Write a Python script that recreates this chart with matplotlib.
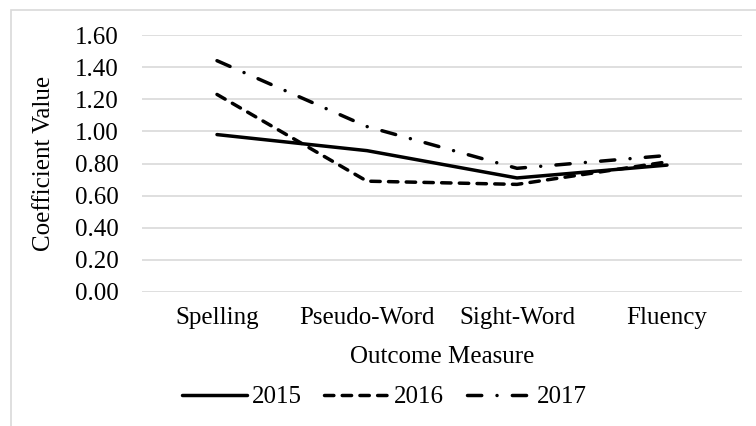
import matplotlib
matplotlib.use("Agg")
import matplotlib.pyplot as plt
from matplotlib.patches import Rectangle

# data
measures = ["Spelling", "Pseudo-Word", "Sight-Word", "Fluency"]
years = ["2015", "2016", "2017"]
vals_2015 = [0.98, 0.88, 0.71, 0.79]
vals_2016 = [1.23, 0.69, 0.67, 0.81]
vals_2017 = [1.44, 1.03, 0.77, 0.85]
yticks = [0.0, 0.2, 0.4, 0.6, 0.8, 1.0, 1.2, 1.4, 1.6]

plt.rcParams['font.family'] = ['Liberation Serif', 'DejaVu Serif']
fs = 18

fig = plt.figure(figsize=(7.56, 4.26), dpi=100)
ax = fig.add_axes([142 / 756, 1 - 292 / 426, 600 / 756, (292 - 35) / 426])

# outer chart border (light grey), runs off right/bottom edges
fig.patches.append(Rectangle((11 / 756, -0.1), 1.1, 1 - 10 / 426 + 0.1,
                             transform=fig.transFigure, fill=False,
                             edgecolor='#d9d9d9', lw=1.2))

x = range(len(measures))
lw = 2.5
ax.plot(x, vals_2015, color='black', lw=lw, solid_capstyle='round', label=years[0])
ax.plot(x, vals_2016, color='black', lw=lw, dash_capstyle='round',
        linestyle=(0, (2.7, 2.4)), label=years[1])
ax.plot(x, vals_2017, color='black', lw=lw, dash_capstyle='round',
        linestyle=(0, (4.1, 4.4, 0.01, 4.4)), label=years[2])

ax.set_xlim(-0.5, len(measures) - 0.5)
ax.set_ylim(0, 1.6)
ax.set_yticks(yticks)
ax.set_yticklabels(['{:.2f}'.format(v) for v in yticks])
ax.set_xticks(list(x))
ax.set_xticklabels(measures)
ax.yaxis.grid(True, color='#d9d9d9', lw=1.2)
ax.set_axisbelow(True)
for s in ax.spines.values():
    s.set_visible(False)
ax.tick_params(axis='y', length=0, pad=17, labelsize=fs)
ax.tick_params(axis='x', length=0, pad=11, labelsize=fs)

ax.set_xlabel('Outcome Measure', fontsize=fs, labelpad=12)
ax.set_ylabel('Coefficient Value', fontsize=fs, labelpad=14)

fig.legend(loc='center', bbox_to_anchor=(0.508, 1 - 397 / 426), ncol=3,
           frameon=False, fontsize=fs, handlelength=2.6, handletextpad=0.2,
           columnspacing=0.9)

fig.savefig('out.png', dpi=100)
